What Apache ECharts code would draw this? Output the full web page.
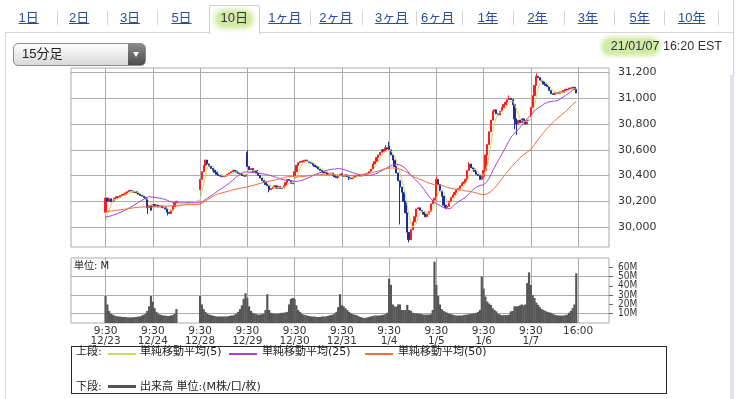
<!DOCTYPE html>
<html><head><meta charset="utf-8">
<script src="https://cdn.jsdelivr.net/npm/echarts@6/dist/echarts.min.js"></script>
<style>
html,body{margin:0;padding:0;background:#fff;width:750px;height:399px;overflow:hidden;}
#chart{position:absolute;left:0;top:0;width:750px;height:399px;}
.t{position:absolute;white-space:nowrap;font-family:"Liberation Sans","Noto Sans CJK JP",sans-serif;}
.tab{top:10px;font-size:13px;line-height:16px;color:#2b4c98;text-decoration:underline;transform:translateX(-50%);}
.sep{position:absolute;top:11px;width:1px;height:14px;background:#d4d4d4;}
.lg{font-size:11px;line-height:13px;color:#222;font-family:"DejaVu Sans","Noto Sans CJK JP",sans-serif;}
.ln{position:absolute;}
</style></head>
<body>
<div id="chart"></div>
<div id="ui"></div>
<script>
// ---------------- data ----------------
const dayLabels = ['12/23','12/24','12/28','12/29','12/30','12/31','1/4','1/5','1/6','1/7'];
const openLabel = '9:30';
const closeLabel = '16:00';
const dayOpens = [30115, 30160, 30290, 30580, 30400, 30415, 30627, 30204, 30393, 30855];

// 15-minute closes per session (12/24 is a half day)
const c1223 = [30225,30200,30220,30195,30210,30225,30235,30230,30245,30255,30250,30265,30275,30285,30280,30270,30275,30265,30255,30245,30240,30230,30220,30150,30165,30130];
const c1224 = [30175,30160,30170,30155,30165,30150,30155,30140,30115,30105,30130,30160,30190,30200];
const c1228 = [30370,30430,30480,30520,30490,30470,30455,30440,30425,30410,30400,30395,30390,30395,30400,30410,30420,30430,30440,30435,30425,30415,30410,30400,30395,30404];
const c1229 = [30470,30445,30455,30430,30440,30420,30400,30380,30360,30345,30330,30320,30290,30300,30310,30320,30300,30315,30300,30305,30320,30345,30370,30360,30340,30336];
const c1230 = [30430,30480,30500,30510,30505,30515,30520,30510,30500,30495,30480,30470,30465,30450,30440,30430,30420,30425,30410,30415,30420,30400,30390,30385,30400,30410];
const c1231 = [30400,30395,30405,30390,30380,30375,30385,30395,30400,30405,30395,30400,30405,30410,30420,30430,30450,30490,30510,30540,30560,30580,30600,30590,30615,30606];
const c0104 = [30600,30560,30520,30470,30420,30360,30310,30270,30200,30110,29960,29900,29980,30040,30080,30140,30150,30130,30120,30100,30080,30100,30120,30180,30210,30224];
const c0105 = [30370,30330,30280,30240,30170,30150,30160,30200,30230,30250,30270,30290,30300,30320,30340,30350,30370,30440,30490,30460,30450,30430,30410,30400,30370,30392];
const c0106 = [30440,30560,30640,30740,30830,30900,30910,30880,30870,30900,30930,30950,30970,30990,31000,30990,30950,30840,30800,30830,30810,30840,30820,30800,30830,30829];
const c0107 = [30930,31020,31100,31170,31160,31140,31130,31110,31100,31090,31060,31035,31030,31040,31045,31035,31050,31045,31060,31070,31065,31080,31075,31085,31070,31041];

// notable wicks: [session, bar, high, low]
const wicks = [[0,23,null,30100],[1,8,null,30090],[3,0,30595,null],[3,12,null,30270],[4,24,null,30375],
  [5,4,null,30365],[5,24,30637,null],[6,0,30662,null],[6,6,null,30020],[6,10,null,29900],[6,11,null,29881],
  [7,0,30390,null],[7,5,null,30141],[7,18,30505,null],[8,14,31022,null],[8,17,null,30760],[8,18,null,30714],
  [9,3,31193,null]];

// closes before the window (12/21 - 12/22), only used by the moving averages
const priorCloses = [30100,30110,30120,30130,30125,30140,30150,30145,30150,30160,30155,30165,30170,30160,30175,30180,30170,30185,30190,30200,30195,30205,30216,
  30170,30150,30140,30120,30110,30100,30115,30105,30090,30100,30095,30085,30080,30090,30075,30070,30060,30065,30050,30040,30045,30030,30010,30000,30005,30015];

// volume (millions) per session
const v1223 = [29,20,13,10,9,8,7.5,7,7,6.5,6.5,6.5,6,6,6,6,6.5,6.5,7,7,8,9,10,13,18,29];
const v1224 = [23,16,12,10,9,8.5,8,8,7.5,7.5,8,8.5,10,15];
const v1228 = [29,20,15,12,10,9,8.5,8,7.5,7,7,7,7,7,7,7,7.5,8,8,9,10,12,15,19,26,32];
const v1229 = [27,18,13,11,10,9.5,9,9,9.5,10,14,31,14,11,10.5,10,10,10,10.5,11,11,11.5,12,20,26,27];
const v1230 = [26,19,14,12,10,9,8.5,8,7.5,7,7,7,6.5,6.5,6.5,7,7,7,7.5,8,8.5,9,10,12,17,31];
const v1231 = [19,18,16,14,12,10.5,9.5,9,8.5,7.5,6.5,6,5.5,5.5,6,6.5,7,7.5,8,8,8,8,8.5,9,9.5,11];
const v0104 = [47.5,41,20,18,17.5,20,20,14,14,14,19.5,14,13,11,10.5,10.5,10,10,9.5,9,9,9,9,9.5,14,66];
const v0105 = [41,29,20,15,13,12,11,10,9.5,9,8.5,8,8,8,8,8.5,9,9,9.5,10,10,10.5,11,12,14,50];
const v0106 = [37,28.5,23,21,19.5,16,14,12.5,10,9,8.5,8.5,8.5,8.5,9,12.5,13,18,18,18,19,20,19,20,43,54.5];
const v0107 = [41,30,27,22,19.5,17,15,14,13,12,11.5,11,10,9,8.5,8,8,8,8,8.5,9,11,13,16,20,53.5];

const priceTicks = [30000,30200,30400,30600,30800,31000,31200];
const volTicksOdd = [10,30,50];
const volTicksEven = [20,40,60];
const maPeriods = [5,25,50];
const maNames = ['単純移動平均(5)','単純移動平均(25)','単純移動平均(50)'];

// ---------------- build ----------------
const closes = [c1223,c1224,c1228,c1229,c1230,c1231,c0104,c0105,c0106,c0107];
const vols = [v1223,v1224,v1228,v1229,v1230,v1231,v0104,v0105,v0106,v0107];
const SLOTS_PER_DAY = 26, LEAD = 19, TRAIL = 17;
const N = LEAD + SLOTS_PER_DAY*dayLabels.length + 1 + TRAIL;
const cats = []; for (let i=0;i<N;i++) cats.push(String(i));
const labelAt = {};
dayLabels.forEach((d,i)=>{ labelAt[LEAD+i*SLOTS_PER_DAY] = openLabel+'\n'+d; });
labelAt[LEAD+SLOTS_PER_DAY*dayLabels.length] = closeLabel;

const candle = new Array(N).fill('-');
const volume = new Array(N).fill('-');
const seq = priorCloses.slice();
const seqSlot = priorCloses.map(()=>-1);
let prev = null;
closes.forEach((arr,d)=>{
  arr.forEach((c,b)=>{
    const o = b===0 ? dayOpens[d] : prev;
    let hi = Math.max(o,c), lo = Math.min(o,c);
    wicks.forEach(w=>{ if (w[0]===d && w[1]===b){ if (w[2]!=null) hi=w[2]; if (w[3]!=null) lo=w[3]; } });
    const s = LEAD + d*SLOTS_PER_DAY + b;
    candle[s] = [o,c,lo,hi];
    volume[s] = vols[d][b];
    seq.push(c); seqSlot.push(s);
    prev = c;
  });
});
function movingAvg(n){
  const out = new Array(N).fill(null);
  for (let j=priorCloses.length;j<seq.length;j++){
    let s=0; for (let k=j-n+1;k<=j;k++) s+=seq[k];
    out[seqSlot[j]] = s/n;
  }
  return out;
}
const maColors = ['#c6d966','#a542dc','#ee6d42'];
const isDayLine = (i)=> labelAt[i]!==undefined;
const gridColor = '#ababab';
const volLabel = {showMinLabel:true,showMaxLabel:true,hideOverlap:false,formatter:(v)=>v+'M',color:'#333',fontSize:10,lineHeight:9,margin:9,fontFamily:'DejaVu Sans Condensed, DejaVu Sans'};

const chart = echarts.init(document.getElementById('chart'), null, {renderer:'canvas'});
chart.setOption({
  animation:false,
  backgroundColor:'transparent',
  grid:[
    {left:71,right:141,top:68,height:179,show:true,borderColor:gridColor,borderWidth:1,backgroundColor:'#fff'},
    {left:71,right:141,top:258,height:65,show:true,borderColor:gridColor,borderWidth:1,backgroundColor:'#fff'}
  ],
  xAxis:[
    {type:'category',gridIndex:0,data:cats,boundaryGap:false,axisLine:{show:false},axisTick:{show:false},axisLabel:{show:false},
     splitLine:{show:true,interval:(i)=>isDayLine(i),lineStyle:{color:gridColor,width:1}}},
    {type:'category',gridIndex:1,data:cats,boundaryGap:false,axisLine:{show:false},axisTick:{show:false},
     axisLabel:{show:true,interval:(i)=>isDayLine(i),formatter:(v,i)=>labelAt[i]||'',color:'#333',fontSize:10.5,lineHeight:10,margin:3,fontFamily:'DejaVu Sans'},
     splitLine:{show:true,interval:(i)=>isDayLine(i),lineStyle:{color:gridColor,width:1}}}
  ],
  yAxis:[
    {type:'value',gridIndex:0,position:'right',min:29845,max:31235,scale:true,
     axisLine:{show:false},axisTick:{show:false,customValues:priceTicks},
     axisLabel:{customValues:priceTicks,formatter:(v)=>v.toLocaleString('en-US'),color:'#333',fontSize:11,margin:9,fontFamily:'DejaVu Sans'},
     splitLine:{show:true,lineStyle:{color:gridColor,width:1}}},
    {type:'value',gridIndex:1,position:'right',min:0,max:70,interval:10,
     axisLine:{show:false},axisTick:{show:true,length:4,lineStyle:{color:'#666'},customValues:volTicksOdd},
     axisLabel:Object.assign({customValues:volTicksOdd},volLabel),
     splitLine:{show:true,lineStyle:{color:gridColor,width:1}}},
    {type:'value',gridIndex:1,position:'right',offset:0,min:0,max:70,interval:10,
     axisLine:{show:false},axisTick:{show:true,length:4,lineStyle:{color:'#666'},customValues:volTicksEven},
     axisLabel:Object.assign({customValues:volTicksEven},volLabel),
     splitLine:{show:false}}
  ],
  series:[
    {type:'candlestick',xAxisIndex:0,yAxisIndex:0,data:candle,barWidth:1.8,
     itemStyle:{color:'#ff1c1c',color0:'#1a2f95',borderColor:'#ff1c1c',borderColor0:'#1a2f95',borderWidth:1}},
    ...maPeriods.map((n,k)=>({type:'line',name:maNames[k],xAxisIndex:0,yAxisIndex:0,data:movingAvg(n),symbol:'none',
      connectNulls:true,lineStyle:{color:maColors[k],width:1},z:3})),
    {type:'bar',xAxisIndex:1,yAxisIndex:1,data:volume,barWidth:2.2,itemStyle:{color:'#575757'}}
  ]
});

// ---------------- page chrome ----------------
const tabs = [['1日',28.7],['2日',79.2],['3日',130],['5日',181.5],['10日',234.2],['1ヶ月',284.8],['2ヶ月',335.8],['3ヶ月',391.7],['6ヶ月',437.7],['1年',487.8],['2年',537.5],['3年',587.8],['5年',639.7],['10年',691.7]];
const seps = [56.7,106.7,156.7,310,361.7,415.7,462.3,513.3,564.3,614.3,664.3,717.7];
let h = '';
h += '<div class="ln" style="left:5px;top:32px;width:204px;height:1px;background:#d6d6d6"></div>';
h += '<div class="ln" style="left:259px;top:32px;width:474px;height:1px;background:#d6d6d6"></div>';
h += '<div class="ln" style="left:5px;top:32px;width:1px;height:367px;background:#dcdcdc"></div>';
h += '<div class="ln" style="left:733px;top:0px;width:1px;height:399px;background:#cfcfcf"></div>';
h += '<div class="ln" style="left:730px;top:75px;width:4px;height:324px;background:#dfe2ef"></div>';
h += '<div class="ln" style="left:209px;top:5px;width:49px;height:28px;border:1px solid #cfcfcf;border-bottom:none;border-radius:2px 2px 0 0;background:#fff"></div>';
h += '<div class="ln" style="left:217px;top:12px;width:34px;height:14px;border-radius:7px;background:#d3eaa6;box-shadow:0 0 5px 3px #d3eaa6"></div>';
tabs.forEach(([t,x])=>{
  if (t==='10日') h += '<div class="t tab" style="left:'+x+'px;color:#333;text-decoration:none">'+t+'</div>';
  else h += '<div class="t tab" style="left:'+x+'px">'+t+'</div>';
});
seps.forEach(x=>{ h += '<div class="sep" style="left:'+x+'px"></div>'; });
// dropdown
h += '<div class="ln" style="left:13px;top:43px;width:131px;height:21px;border:1px solid #8c8c8c;border-radius:5px;background:linear-gradient(#fdfdfd,#d9d9d9);overflow:hidden">'+
     '<div class="ln" style="left:114px;top:0;width:17px;height:21px;background:linear-gradient(#8a8a8a,#4d4d4d)"></div>'+
     '<div class="ln" style="left:119px;top:8px;width:0;height:0;border-left:3.5px solid transparent;border-right:3.5px solid transparent;border-top:5px solid #fff"></div></div>';
h += '<div class="t" style="left:22px;top:46px;font-size:13px;line-height:16px;color:#222">15分足</div>';
// date
h += '<div class="ln" style="left:604px;top:40px;width:53px;height:13px;border-radius:6px;background:#d3eaa6;box-shadow:0 0 4px 3px #d3eaa6"></div>';
h += '<div class="t" style="right:28px;top:39px;font-size:12.5px;line-height:15px;color:#333">21/01/07 16:20 EST</div>';
// volume unit
h += '<div class="t lg" style="left:74px;top:259px;font-size:10px">単位: M</div>';
// legend box
h += '<div class="ln" style="left:71px;top:346px;width:594px;height:46px;border:1.5px solid #2a2a2a"></div>';
h += '<div class="t lg" style="left:76px;top:345px">上段:</div>';
const lgX = [[108,140],[229,262],[365,398]];
maNames.forEach((n,k)=>{
  h += '<div class="ln" style="left:'+lgX[k][0]+'px;top:353px;width:28px;height:1.5px;background:'+maColors[k]+'"></div>';
  h += '<div class="t lg" style="left:'+lgX[k][1]+'px;top:345px">'+n+'</div>';
});
h += '<div class="t lg" style="left:76px;top:380px">下段:</div>';
h += '<div class="ln" style="left:108px;top:385px;width:28px;height:3px;background:#555"></div>';
h += '<div class="t lg" style="left:140px;top:380px">出来高 単位:(M株/口/枚)</div>';
document.getElementById('ui').innerHTML = h;
</script>
</body></html>
